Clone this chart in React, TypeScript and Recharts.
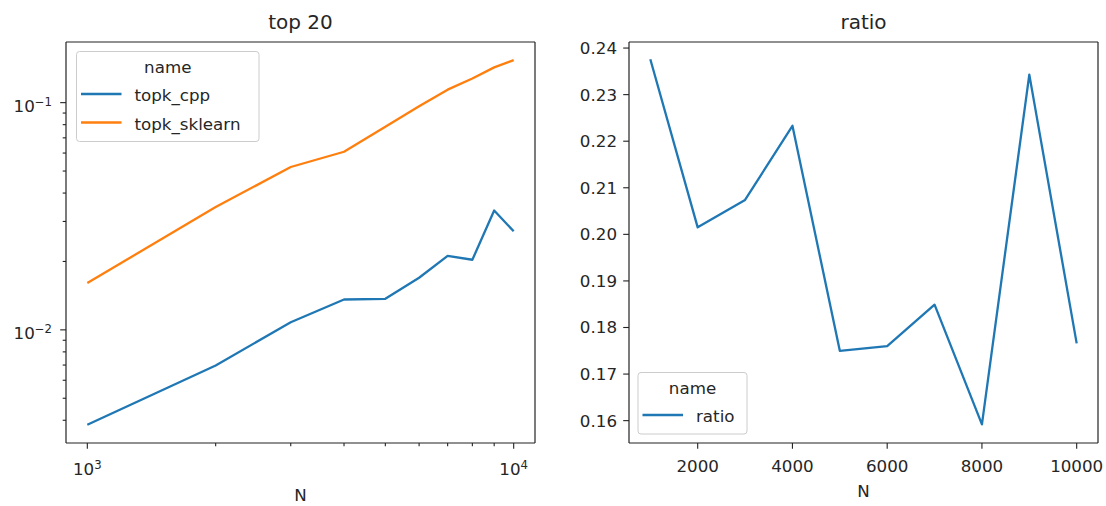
import { Line, LineChart, XAxis, YAxis } from 'recharts';

const nValues = [1000, 2000, 3000, 4000, 5000, 6000, 7000, 8000, 9000, 10000];
const topkCpp = [0.00382, 0.00697, 0.0108, 0.0136, 0.0137, 0.01695, 0.02115, 0.02035, 0.0335, 0.02716];
const topkSklearn = [0.01608, 0.0347, 0.0521, 0.0608, 0.0783, 0.0964, 0.1141, 0.1278, 0.143, 0.1538];
const ratioValues = [0.2376, 0.2015, 0.2074, 0.2233, 0.175, 0.176, 0.1849, 0.1592, 0.2343, 0.1766];

const logXTicks = [1000, 2000, 3000, 4000, 5000, 6000, 7000, 8000, 9000, 10000];
const logYTicks = [
  0.004, 0.005, 0.006, 0.007, 0.008, 0.009, 0.01, 0.02, 0.03, 0.04, 0.05, 0.06, 0.07, 0.08, 0.09, 0.1,
];
const ratioXTicks = [2000, 4000, 6000, 8000, 10000];
const ratioYTicks = [0.16, 0.17, 0.18, 0.19, 0.2, 0.21, 0.22, 0.23, 0.24];

const timingSeries = [
  { key: 'topk_cpp', color: '#1f77b4' },
  { key: 'topk_sklearn', color: '#ff7f0e' },
];
const ratioSeries = [{ key: 'ratio', color: '#1f77b4' }];

const timingData = nValues.map((n, i) => ({ n, topk_cpp: topkCpp[i], topk_sklearn: topkSklearn[i] }));
const ratioData = nValues.map((n, i) => ({ n, ratio: ratioValues[i] }));

const FONT = "'DejaVu Sans', 'Noto Sans', sans-serif";
const INK = '#262626';
const SPINE = { stroke: '#222', strokeWidth: 1.2 };
const MAJOR = 5.8;
const MINOR = 3.3;

const isPow10 = (v: number) => Math.abs(Math.log10(v) - Math.round(Math.log10(v))) < 1e-9;
const expText = (v: number) => {
  const e = Math.round(Math.log10(v));
  return e < 0 ? '\u2212' + Math.abs(e) : String(e);
};

const PowLabel = ({ v, x, y, anchor }: any) => (
  <text x={x} y={y} textAnchor={anchor} fontSize={16.7} fontFamily={FONT} fill={INK}>
    10
    <tspan dy={-6.5} fontSize={11.7}>
      {expText(v)}
    </tspan>
  </text>
);

const LogXTick = ({ x, y, payload }: any) => {
  const major = isPow10(payload.value);
  return (
    <g>
      <line x1={x} x2={x} y1={y} y2={y + (major ? MAJOR : MINOR)} stroke='#222' strokeWidth={1.1} />
      {major && <PowLabel v={payload.value} x={x} y={y + 32} anchor='middle' />}
    </g>
  );
};

const LogYTick = ({ x, y, payload }: any) => {
  const major = isPow10(payload.value);
  return (
    <g>
      <line x1={x - (major ? MAJOR : MINOR)} x2={x} y1={y} y2={y} stroke='#222' strokeWidth={1.1} />
      {major && <PowLabel v={payload.value} x={x - 14} y={y + 9.5} anchor='end' />}
    </g>
  );
};

const LinXTick = ({ x, y, payload }: any) => (
  <g>
    <line x1={x} x2={x} y1={y} y2={y + MAJOR} stroke='#222' strokeWidth={1.1} />
    <text x={x} y={y + 29} textAnchor='middle' fontSize={16.7} fontFamily={FONT} fill={INK}>
      {payload.value}
    </text>
  </g>
);

const LinYTick = ({ x, y, payload }: any) => (
  <g>
    <line x1={x - MAJOR} x2={x} y1={y} y2={y} stroke='#222' strokeWidth={1.1} />
    <text x={x - 12} y={y + 6} textAnchor='end' fontSize={16.7} fontFamily={FONT} fill={INK}>
      {payload.value.toFixed(2)}
    </text>
  </g>
);

const LegendBox = ({ x, y, w, h, items }: any) => (
  <g>
    <rect x={x} y={y} width={w} height={h} rx={3} fill='#fff' fillOpacity={0.8} stroke='#cccccc' />
    <text x={x + w / 2} y={y + 21} textAnchor='middle' fontSize={16.7} fontFamily={FONT} fill={INK}>
      name
    </text>
    {items.map((s: any, i: number) => (
      <g key={s.key}>
        <line x1={x + 4.5} x2={x + 45} y1={y + 42.5 + i * 28.5} y2={y + 42.5 + i * 28.5} stroke={s.color} strokeWidth={2.5} />
        <text x={x + 58} y={y + 49.5 + i * 28.5} fontSize={16.7} fontFamily={FONT} fill={INK}>
          {s.key}
        </text>
      </g>
    ))}
  </g>
);

const logXDomain = [891.25, 11220];
const logYDomain = [0.003177, 0.1849];
const ratioXDomain = [550, 10450];
const ratioYDomain = [0.1552, 0.2413];

export default function App() {
  return (
    <div style={{ position: 'absolute', left: 0, top: 0, width: 1106, height: 506, background: '#fff' }}>
      <div style={{ position: 'absolute', left: 0, top: 0 }}>
        <LineChart width={560} height={506} data={timingData} margin={{ top: 41, right: 24, bottom: 23, left: 6 }}>
          <XAxis
            dataKey='n'
            type='number'
            scale='log'
            domain={logXDomain}
            allowDataOverflow
            ticks={logXTicks}
            interval={0}
            height={40}
            tickSize={0}
            tickMargin={0}
            tick={<LogXTick />}
            axisLine={SPINE}
          />
          {/* top spine */}
          <XAxis xAxisId='top' orientation='top' type='number' scale='log' domain={logXDomain} allowDataOverflow height={1} ticks={[]} tick={false} tickLine={false} axisLine={SPINE} />
          <YAxis
            type='number'
            scale='log'
            domain={logYDomain}
            allowDataOverflow
            ticks={logYTicks}
            interval={0}
            width={60}
            tickSize={0}
            tickMargin={0}
            tick={<LogYTick />}
            axisLine={SPINE}
          />
          {/* right spine */}
          <YAxis yAxisId='right' orientation='right' type='number' scale='log' domain={logYDomain} allowDataOverflow width={1} ticks={[]} tick={false} tickLine={false} axisLine={SPINE} />
          {timingSeries.map((s) => (
            <Line
              key={s.key}
              type='linear'
              dataKey={s.key}
              stroke={s.color}
              strokeWidth={2.3}
              strokeLinejoin='round'
              dot={false}
              activeDot={false}
              isAnimationActive={false}
            />
          ))}
        </LineChart>
      </div>
      <div style={{ position: 'absolute', left: 560, top: 0 }}>
        <LineChart width={546} height={506} data={ratioData} margin={{ top: 41, right: 7, bottom: 23, left: 9 }}>
          <XAxis
            dataKey='n'
            type='number'
            domain={ratioXDomain}
            allowDataOverflow
            ticks={ratioXTicks}
            interval={0}
            height={40}
            tickSize={0}
            tickMargin={0}
            tick={<LinXTick />}
            axisLine={SPINE}
          />
          <XAxis xAxisId='top' orientation='top' type='number' domain={ratioXDomain} allowDataOverflow height={1} ticks={[]} tick={false} tickLine={false} axisLine={SPINE} />
          <YAxis
            type='number'
            domain={ratioYDomain}
            allowDataOverflow
            ticks={ratioYTicks}
            interval={0}
            width={60}
            tickSize={0}
            tickMargin={0}
            tick={<LinYTick />}
            axisLine={SPINE}
          />
          <YAxis yAxisId='right' orientation='right' type='number' domain={ratioYDomain} allowDataOverflow width={1} ticks={[]} tick={false} tickLine={false} axisLine={SPINE} />
          {ratioSeries.map((s) => (
            <Line
              key={s.key}
              type='linear'
              dataKey={s.key}
              stroke={s.color}
              strokeWidth={2.3}
              strokeLinejoin='round'
              dot={false}
              activeDot={false}
              isAnimationActive={false}
            />
          ))}
        </LineChart>
      </div>
      <svg width={1106} height={506} style={{ position: 'absolute', left: 0, top: 0, pointerEvents: 'none' }}>
        <text x={300.5} y={28.5} textAnchor='middle' fontSize={20} fontFamily={FONT} fill={INK}>
          top 20
        </text>
        <text x={863.5} y={28.5} textAnchor='middle' fontSize={20} fontFamily={FONT} fill={INK}>
          ratio
        </text>
        <text x={300.5} y={501} textAnchor='middle' fontSize={16.7} fontFamily={FONT} fill={INK}>
          N
        </text>
        <text x={863.5} y={497} textAnchor='middle' fontSize={16.7} fontFamily={FONT} fill={INK}>
          N
        </text>
        <LegendBox x={76.5} y={51.5} w={182.5} h={90} items={timingSeries} />
        <LegendBox x={638} y={372.5} w={109} h={61.5} items={ratioSeries} />
      </svg>
    </div>
  );
}
